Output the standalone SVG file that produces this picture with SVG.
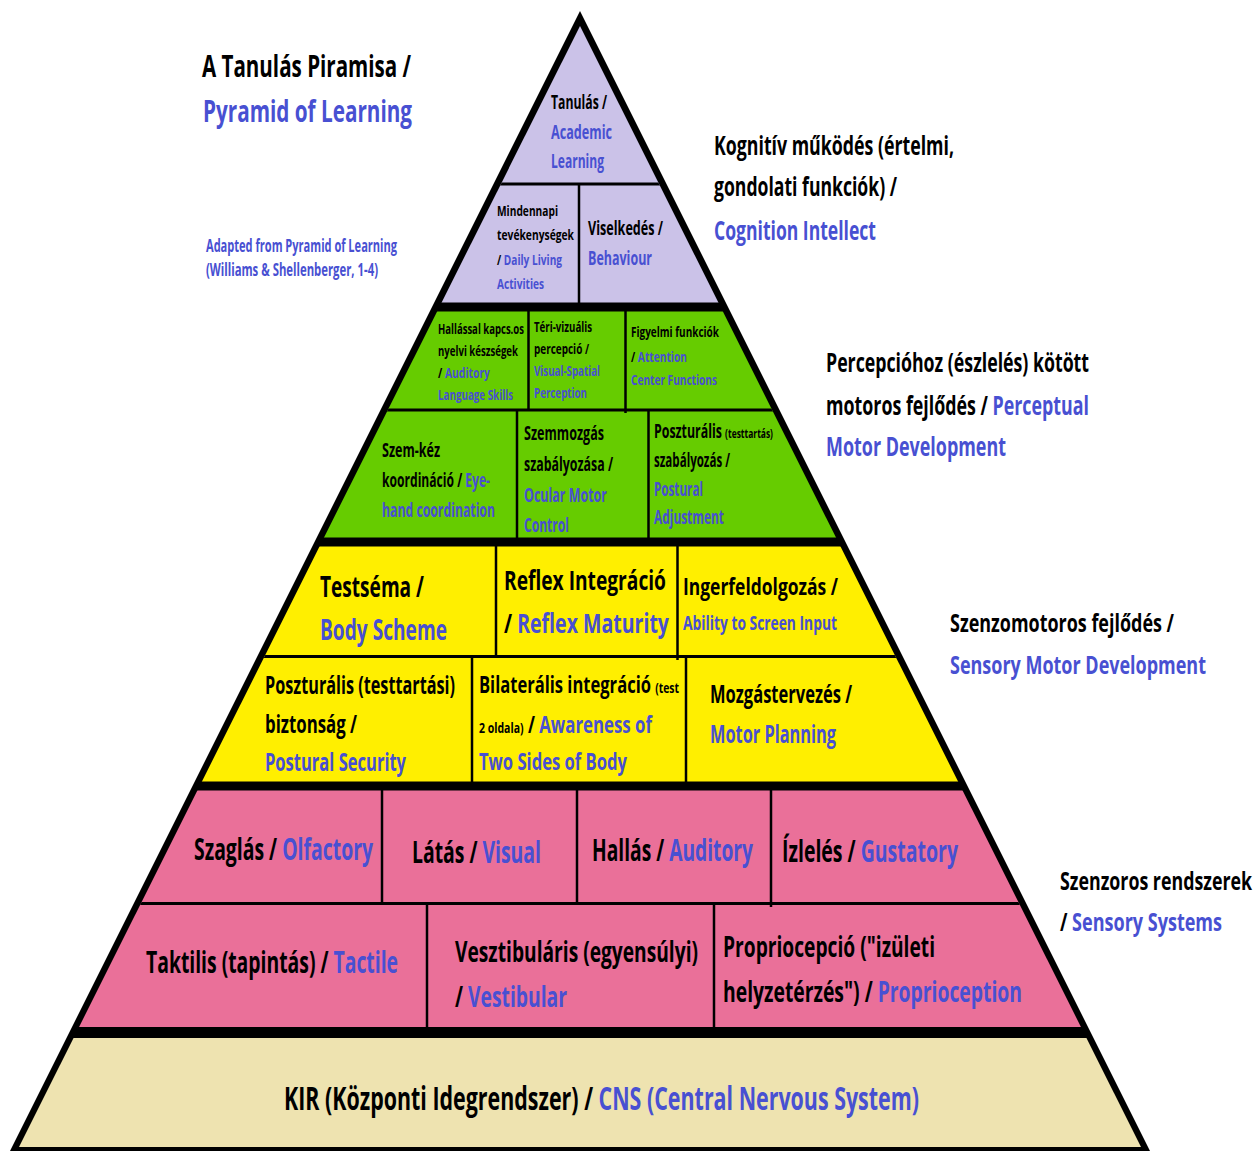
<svg xmlns="http://www.w3.org/2000/svg" width="1255" height="1151" viewBox="0 0 1255 1151">
  <style>
    text { font-family: "Open Sans", "Liberation Sans", sans-serif; font-weight: 700; fill: #000; }
    .b { fill: #4850d2; }
    .div { stroke: #000; stroke-width: 3; fill: none; }
    .vd { stroke: #000; stroke-width: 2.5; fill: none; }
  </style>
  <defs>
    <clipPath id="inner">
      <polygon points="580,26 19,1147 1141,1147"/>
    </clipPath>
  </defs>

  <rect width="1255" height="1151" fill="#fff"/>

  <!-- outer black triangle (border and tier bands show through) -->
  <polygon points="580,11 10,1151 1150,1151" fill="#000"/>

  <!-- tier fills clipped to the inner triangle -->
  <g id="tiers" clip-path="url(#inner)">
    <rect id="tier-cognition" x="0" y="0" width="1255" height="302.5" fill="#cbc2e8"/>
    <rect id="tier-perceptual" x="0" y="311.5" width="1255" height="226" fill="#66cc00"/>
    <rect id="tier-sensorymotor" x="0" y="546.5" width="1255" height="235" fill="#ffef00"/>
    <rect id="tier-sensory" x="0" y="790.5" width="1255" height="236.5" fill="#ea7099"/>
    <rect id="tier-cns" x="0" y="1038" width="1255" height="113" fill="#eee3b0"/>

    <g id="connectors">
      <line class="div" x1="0" y1="184" x2="1255" y2="184"/>
      <line class="vd" x1="579" y1="184" x2="579" y2="303"/>

      <line class="div" x1="0" y1="410" x2="1255" y2="410"/>
      <line class="vd" x1="528.5" y1="310" x2="528.5" y2="410"/>
      <line class="vd" x1="625.5" y1="310" x2="625.5" y2="413"/>
      <line class="vd" x1="517" y1="410" x2="517" y2="538"/>
      <line class="vd" x1="648.5" y1="410" x2="648.5" y2="538"/>

      <line class="div" x1="0" y1="656.5" x2="1255" y2="656.5"/>
      <line class="vd" x1="496" y1="546" x2="496" y2="657"/>
      <line class="vd" x1="677.5" y1="546" x2="677.5" y2="660"/>
      <line class="vd" x1="472" y1="656" x2="472" y2="782"/>
      <line class="vd" x1="686" y1="656" x2="686" y2="782"/>

      <line class="div" x1="0" y1="903.5" x2="1255" y2="903.5"/>
      <line class="vd" x1="382" y1="790" x2="382" y2="904"/>
      <line class="vd" x1="577" y1="790" x2="577" y2="904"/>
      <line class="vd" x1="771" y1="790" x2="771" y2="907"/>
      <line class="vd" x1="427" y1="903" x2="427" y2="1028"/>
      <line class="vd" x1="714" y1="903" x2="714" y2="1028"/>
    </g>
  </g>

  <!-- labels: each line is drawn condensed (scale .625 horizontally, length fitted) -->
  <g id="title">
    <text transform="translate(202 0) scale(.625 1)" x="0" y="77" font-size="30" textLength="334.4" lengthAdjust="spacingAndGlyphs">A Tanulás Piramisa /</text>
    <text class="b" transform="translate(203 0) scale(.625 1)" x="0" y="122" font-size="30" textLength="334.4" lengthAdjust="spacingAndGlyphs">Pyramid of Learning</text>
  </g>
  <g id="source-note">
    <text class="b" transform="translate(206 0) scale(.625 1)" x="0" y="252" font-size="17" font-weight="400" textLength="305.6" lengthAdjust="spacingAndGlyphs">Adapted from Pyramid of Learning</text>
    <text class="b" transform="translate(206 0) scale(.625 1)" x="0" y="276" font-size="17" font-weight="400" textLength="275.2" lengthAdjust="spacingAndGlyphs">(Williams &amp; Shellenberger, 1-4)</text>
  </g>
  <g id="label-cognition">
    <text transform="translate(714 0) scale(.625 1)" x="0" y="155" font-size="26" textLength="384" lengthAdjust="spacingAndGlyphs">Kognitív működés (értelmi,</text>
    <text transform="translate(714 0) scale(.625 1)" x="0" y="196" font-size="26" textLength="292.8" lengthAdjust="spacingAndGlyphs">gondolati funkciók) /</text>
    <text class="b" transform="translate(714 0) scale(.625 1)" x="0" y="240" font-size="26" textLength="259.2" lengthAdjust="spacingAndGlyphs">Cognition Intellect</text>
  </g>
  <g id="label-perceptual">
    <text transform="translate(826 0) scale(.625 1)" x="0" y="372" font-size="26" textLength="420.8" lengthAdjust="spacingAndGlyphs">Percepcióhoz (észlelés) kötött</text>
    <text transform="translate(826 0) scale(.625 1)" x="0" y="415" font-size="26" textLength="420.8" lengthAdjust="spacingAndGlyphs">motoros fejlődés / <tspan class="b">Perceptual</tspan></text>
    <text class="b" transform="translate(826 0) scale(.625 1)" x="0" y="456" font-size="26" textLength="288" lengthAdjust="spacingAndGlyphs">Motor Development</text>
  </g>
  <g id="label-sensorymotor">
    <text transform="translate(950 0) scale(.625 1)" x="0" y="632" font-size="25" textLength="358.4" lengthAdjust="spacingAndGlyphs">Szenzomotoros fejlődés /</text>
    <text class="b" transform="translate(950 0) scale(.625 1)" x="0" y="674" font-size="25" textLength="409.6" lengthAdjust="spacingAndGlyphs">Sensory Motor Development</text>
  </g>
  <g id="label-sensory">
    <text transform="translate(1060 0) scale(.625 1)" x="0" y="890" font-size="25" textLength="307.2" lengthAdjust="spacingAndGlyphs">Szenzoros rendszerek</text>
    <text transform="translate(1060 0) scale(.625 1)" x="0" y="931" font-size="25" textLength="259.2" lengthAdjust="spacingAndGlyphs">/ <tspan class="b">Sensory Systems</tspan></text>
  </g>

  <!-- cognition tier -->
  <g id="node-academic">
    <text transform="translate(551 0) scale(.625 1)" x="0" y="109" font-size="20" textLength="89.6" lengthAdjust="spacingAndGlyphs">Tanulás /</text>
    <text class="b" transform="translate(551 0) scale(.625 1)" x="0" y="139" font-size="20" textLength="97.6" lengthAdjust="spacingAndGlyphs">Academic</text>
    <text class="b" transform="translate(551 0) scale(.625 1)" x="0" y="168" font-size="20" textLength="84.8" lengthAdjust="spacingAndGlyphs">Learning</text>
  </g>
  <g id="node-daily-living">
    <text transform="translate(497 0) scale(.625 1)" x="0" y="216" font-size="15" textLength="97.6" lengthAdjust="spacingAndGlyphs">Mindennapi</text>
    <text transform="translate(497 0) scale(.625 1)" x="0" y="240" font-size="15" textLength="123.2" lengthAdjust="spacingAndGlyphs">tevékenységek</text>
    <text transform="translate(497 0) scale(.625 1)" x="0" y="265" font-size="15" textLength="104" lengthAdjust="spacingAndGlyphs">/ <tspan class="b">Daily Living</tspan></text>
    <text class="b" transform="translate(497 0) scale(.625 1)" x="0" y="289" font-size="15" textLength="75.2" lengthAdjust="spacingAndGlyphs">Activities</text>
  </g>
  <g id="node-behaviour">
    <text transform="translate(588 0) scale(.625 1)" x="0" y="235" font-size="20" textLength="120" lengthAdjust="spacingAndGlyphs">Viselkedés /</text>
    <text class="b" transform="translate(588 0) scale(.625 1)" x="0" y="265" font-size="20" textLength="102.4" lengthAdjust="spacingAndGlyphs">Behaviour</text>
  </g>

  <!-- perceptual motor tier -->
  <g id="node-auditory-language">
    <text transform="translate(438 0) scale(.625 1)" x="0" y="334" font-size="14" textLength="137.6" lengthAdjust="spacingAndGlyphs">Hallással kapcs.os</text>
    <text transform="translate(438 0) scale(.625 1)" x="0" y="356" font-size="14" textLength="128" lengthAdjust="spacingAndGlyphs">nyelvi készségek</text>
    <text transform="translate(438 0) scale(.625 1)" x="0" y="378" font-size="14" textLength="83.2" lengthAdjust="spacingAndGlyphs">/ <tspan class="b">Auditory</tspan></text>
    <text class="b" transform="translate(438 0) scale(.625 1)" x="0" y="400" font-size="14" textLength="120" lengthAdjust="spacingAndGlyphs">Language Skills</text>
  </g>
  <g id="node-visual-spatial">
    <text transform="translate(534 0) scale(.625 1)" x="0" y="332" font-size="14" textLength="92.8" lengthAdjust="spacingAndGlyphs">Téri-vizuális</text>
    <text transform="translate(534 0) scale(.625 1)" x="0" y="354" font-size="14" textLength="88" lengthAdjust="spacingAndGlyphs">percepció /</text>
    <text class="b" transform="translate(534 0) scale(.625 1)" x="0" y="376" font-size="14" textLength="105.6" lengthAdjust="spacingAndGlyphs">Visual-Spatial</text>
    <text class="b" transform="translate(534 0) scale(.625 1)" x="0" y="398" font-size="14" textLength="84.8" lengthAdjust="spacingAndGlyphs">Perception</text>
  </g>
  <g id="node-attention">
    <text transform="translate(631 0) scale(.625 1)" x="0" y="337" font-size="14" textLength="140.8" lengthAdjust="spacingAndGlyphs">Figyelmi funkciók</text>
    <text transform="translate(631 0) scale(.625 1)" x="0" y="362" font-size="14" textLength="89.6" lengthAdjust="spacingAndGlyphs">/ <tspan class="b">Attention</tspan></text>
    <text class="b" transform="translate(631 0) scale(.625 1)" x="0" y="385" font-size="14" textLength="137.6" lengthAdjust="spacingAndGlyphs">Center Functions</text>
  </g>
  <g id="node-eye-hand">
    <text transform="translate(382 0) scale(.625 1)" x="0" y="457" font-size="19" textLength="92.8" lengthAdjust="spacingAndGlyphs">Szem-kéz</text>
    <text transform="translate(382 0) scale(.625 1)" x="0" y="487" font-size="19" textLength="172.8" lengthAdjust="spacingAndGlyphs">koordináció / <tspan class="b">Eye-</tspan></text>
    <text class="b" transform="translate(382 0) scale(.625 1)" x="0" y="517" font-size="19" textLength="180.8" lengthAdjust="spacingAndGlyphs">hand coordination</text>
  </g>
  <g id="node-ocular-motor">
    <text transform="translate(524 0) scale(.625 1)" x="0" y="440" font-size="19" textLength="128" lengthAdjust="spacingAndGlyphs">Szemmozgás</text>
    <text transform="translate(524 0) scale(.625 1)" x="0" y="471" font-size="19" textLength="142.4" lengthAdjust="spacingAndGlyphs">szabályozása /</text>
    <text class="b" transform="translate(524 0) scale(.625 1)" x="0" y="502" font-size="19" textLength="132.8" lengthAdjust="spacingAndGlyphs">Ocular Motor</text>
    <text class="b" transform="translate(524 0) scale(.625 1)" x="0" y="532" font-size="19" textLength="72" lengthAdjust="spacingAndGlyphs">Control</text>
  </g>
  <g id="node-postural-adjustment">
    <text transform="translate(654 0) scale(.625 1)" x="0" y="438" font-size="19" textLength="190.4" lengthAdjust="spacingAndGlyphs">Poszturális <tspan font-size="13">(testtartás)</tspan></text>
    <text transform="translate(654 0) scale(.625 1)" x="0" y="467" font-size="19" textLength="121.6" lengthAdjust="spacingAndGlyphs">szabályozás /</text>
    <text class="b" transform="translate(654 0) scale(.625 1)" x="0" y="496" font-size="19" textLength="78.4" lengthAdjust="spacingAndGlyphs">Postural</text>
    <text class="b" transform="translate(654 0) scale(.625 1)" x="0" y="524" font-size="19" textLength="112" lengthAdjust="spacingAndGlyphs">Adjustment</text>
  </g>

  <!-- sensory motor tier -->
  <g id="node-body-scheme">
    <text transform="translate(320 0) scale(.625 1)" x="0" y="597" font-size="29" textLength="166.4" lengthAdjust="spacingAndGlyphs">Testséma /</text>
    <text class="b" transform="translate(320 0) scale(.625 1)" x="0" y="640" font-size="29" textLength="203.2" lengthAdjust="spacingAndGlyphs">Body Scheme</text>
  </g>
  <g id="node-reflex">
    <text transform="translate(504 0) scale(.625 1)" x="0" y="590" font-size="27" textLength="259.2" lengthAdjust="spacingAndGlyphs">Reflex Integráció</text>
    <text transform="translate(504 0) scale(.625 1)" x="0" y="633" font-size="27" textLength="264" lengthAdjust="spacingAndGlyphs">/ <tspan class="b">Reflex Maturity</tspan></text>
  </g>
  <g id="node-screen-input">
    <text transform="translate(683 0) scale(.625 1)" x="0" y="595" font-size="24" textLength="248" lengthAdjust="spacingAndGlyphs">Ingerfeldolgozás /</text>
    <text class="b" transform="translate(683 0) scale(.625 1)" x="0" y="630" font-size="19" textLength="246.4" lengthAdjust="spacingAndGlyphs">Ability to Screen Input</text>
  </g>
  <g id="node-postural-security">
    <text transform="translate(265 0) scale(.625 1)" x="0" y="694" font-size="25" textLength="304" lengthAdjust="spacingAndGlyphs">Poszturális (testtartási)</text>
    <text transform="translate(265 0) scale(.625 1)" x="0" y="733" font-size="25" textLength="147.2" lengthAdjust="spacingAndGlyphs">biztonság /</text>
    <text class="b" transform="translate(265 0) scale(.625 1)" x="0" y="771" font-size="25" textLength="225.6" lengthAdjust="spacingAndGlyphs">Postural Security</text>
  </g>
  <g id="node-bilateral">
    <text transform="translate(479 0) scale(.625 1)" x="0" y="693" font-size="24" textLength="320" lengthAdjust="spacingAndGlyphs">Bilaterális integráció <tspan font-size="15">(test</tspan></text>
    <text transform="translate(479 0) scale(.625 1)" x="0" y="733" font-size="24" textLength="276.8" lengthAdjust="spacingAndGlyphs"><tspan font-size="15">2 oldala)</tspan> / <tspan class="b">Awareness of</tspan></text>
    <text class="b" transform="translate(479 0) scale(.625 1)" x="0" y="770" font-size="24" textLength="236.8" lengthAdjust="spacingAndGlyphs">Two Sides of Body</text>
  </g>
  <g id="node-motor-planning">
    <text transform="translate(710 0) scale(.625 1)" x="0" y="703" font-size="25" textLength="227.2" lengthAdjust="spacingAndGlyphs">Mozgástervezés /</text>
    <text class="b" transform="translate(710 0) scale(.625 1)" x="0" y="743" font-size="25" textLength="201.6" lengthAdjust="spacingAndGlyphs">Motor Planning</text>
  </g>

  <!-- sensory systems tier -->
  <g id="node-olfactory">
    <text transform="translate(194 0) scale(.625 1)" x="0" y="860" font-size="30" textLength="286.4" lengthAdjust="spacingAndGlyphs">Szaglás / <tspan class="b">Olfactory</tspan></text>
  </g>
  <g id="node-visual">
    <text transform="translate(412 0) scale(.625 1)" x="0" y="863" font-size="30" textLength="206.4" lengthAdjust="spacingAndGlyphs">Látás / <tspan class="b">Visual</tspan></text>
  </g>
  <g id="node-auditory">
    <text transform="translate(592 0) scale(.625 1)" x="0" y="861" font-size="30" textLength="257.6" lengthAdjust="spacingAndGlyphs">Hallás / <tspan class="b">Auditory</tspan></text>
  </g>
  <g id="node-gustatory">
    <text transform="translate(782 0) scale(.625 1)" x="0" y="862" font-size="30" textLength="281.6" lengthAdjust="spacingAndGlyphs">Ízlelés / <tspan class="b">Gustatory</tspan></text>
  </g>
  <g id="node-tactile">
    <text transform="translate(146 0) scale(.625 1)" x="0" y="973" font-size="30" textLength="403.2" lengthAdjust="spacingAndGlyphs">Taktilis (tapintás) / <tspan class="b">Tactile</tspan></text>
  </g>
  <g id="node-vestibular">
    <text transform="translate(455 0) scale(.625 1)" x="0" y="962" font-size="29" textLength="388.8" lengthAdjust="spacingAndGlyphs">Vesztibuláris (egyensúlyi)</text>
    <text transform="translate(455 0) scale(.625 1)" x="0" y="1007" font-size="29" textLength="179.2" lengthAdjust="spacingAndGlyphs">/ <tspan class="b">Vestibular</tspan></text>
  </g>
  <g id="node-proprioception">
    <text transform="translate(723 0) scale(.625 1)" x="0" y="957" font-size="29" textLength="339.2" lengthAdjust="spacingAndGlyphs">Propriocepció ("izületi</text>
    <text transform="translate(723 0) scale(.625 1)" x="0" y="1002" font-size="29" textLength="478.4" lengthAdjust="spacingAndGlyphs">helyzetérzés") / <tspan class="b">Proprioception</tspan></text>
  </g>

  <!-- base tier -->
  <g id="node-cns">
    <text transform="translate(284 0) scale(.625 1)" x="0" y="1110" font-size="33" textLength="1016" lengthAdjust="spacingAndGlyphs">KIR (Központi Idegrendszer) / <tspan class="b">CNS (Central Nervous System)</tspan></text>
  </g>
</svg>
